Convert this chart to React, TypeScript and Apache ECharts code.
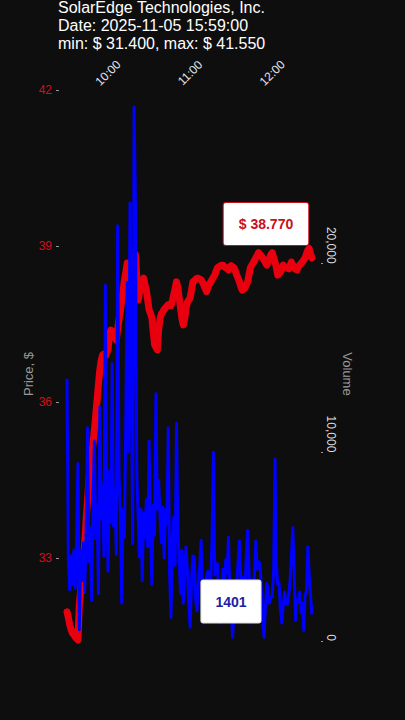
import React, { useEffect, useRef } from "react";
import * as echarts from "echarts";

const TITLE_LINES = [
  "SolarEdge Technologies, Inc.",
  "Date: 2025-11-05 15:59:00",
  "min: $ 31.400, max: $ 41.550",
];

const START_HOUR = 9;
const START_MIN = 30;

// price, $ per minute from 09:30
const price = [
  31.96, 31.85, 31.71, 31.62, 31.55, 31.52, 31.48, 31.45, 31.42, 32.1,
  32.38, 32.7, 32.96, 33.3, 33.73, 34.1, 34.5, 34.75, 34.98, 35.2,
  35.46, 35.75, 36.04, 36.35, 36.62, 36.8, 36.9, 36.92, 36.88, 36.95,
  37.0, 37.3, 37.38, 37.36, 37.35, 37.25, 37.19, 37.4, 37.58, 37.75,
  37.96, 38.15, 38.35, 38.5, 38.67, 38.55, 38.44, 38.2, 37.96, 38.4,
  38.83, 38.4, 37.96, 38.1, 38.25, 38.3, 38.38, 38.25, 38.15, 37.95,
  37.77, 37.7, 37.62, 37.35, 37.1, 37.05, 37.0, 37.4, 37.6, 37.7,
  37.73, 37.78, 37.81, 37.84, 37.87, 37.86, 37.85, 37.95, 38.06, 38.18,
  38.31, 38.2, 38.0, 37.8, 37.6, 37.48, 37.6, 37.8, 37.92, 37.96,
  38.0, 38.15, 38.31, 38.33, 38.36, 38.38, 38.38, 38.36, 38.35, 38.3,
  38.25, 38.18, 38.12, 38.2, 38.27, 38.3, 38.35, 38.4, 38.44, 38.52,
  38.58, 38.6, 38.62, 38.63, 38.63, 38.6, 38.58, 38.56, 38.54, 38.6,
  38.62, 38.6, 38.58, 38.52, 38.44, 38.38, 38.31, 38.22, 38.15, 38.17,
  38.19, 38.25, 38.31, 38.45, 38.58, 38.63, 38.67, 38.72, 38.77, 38.82,
  38.87, 38.84, 38.81, 38.77, 38.73, 38.68, 38.63, 38.7, 38.77, 38.83,
  38.87, 38.78, 38.69, 38.58, 38.44, 38.48, 38.5, 38.55, 38.63, 38.6,
  38.58, 38.57, 38.56, 38.62, 38.69, 38.63, 38.58, 38.55, 38.54, 38.6,
  38.63, 38.66, 38.69, 38.73, 38.77, 38.85, 38.92, 38.95, 38.85, 38.77,
];

// volume per minute from 09:30
const volume = [
  13900, 4200, 2700, 4500, 3000, 4800, 2800, 5500, 9400, 600,
  4800, 3200, 5200, 2600, 6000, 11300, 4200, 6000, 2150, 7500,
  10600, 5400, 7200, 2500, 12400, 6500, 8200, 4500, 18850, 7800,
  3700, 9000, 6300, 14700, 6100, 8000, 4600, 22000, 9000, 6500,
  2000, 7000, 5500, 12000, 19000, 10000, 23200, 14000, 5170, 28300,
  23300, 8900, 6500, 4450, 7000, 3200, 6800, 5500, 7500, 5000,
  10600, 6000, 3000, 7200, 5600, 13100, 7000, 8500, 6550, 5200,
  7100, 4400, 7000, 6200, 11300, 3500, 1250, 5500, 6550, 4000,
  11540, 6000, 4200, 2530, 4800, 2000, 3800, 5000, 3700, 1900,
  730, 3200, 4500, 4450, 2200, 1600, 3000, 4000, 5340, 2300,
  950, 2800, 3500, 3700, 2200, 3000, 5600, 10000, 3500, 4000,
  4100, 2200, 950, 2600, 3800, 2900, 4300, 3600, 5500, 2500,
  1800, 200, 1500, 2300, 3000, 4200, 5300, 3200, 2800, 3400,
  2500, 4500, 5870, 3800, 950, 2400, 3000, 3500, 5300, 3800,
  4200, 4100, 2800, 1000, 200, 1800, 3050, 2700, 2000, 2300,
  2350, 3800, 9650, 4100, 3000, 3050, 1600, 950, 1900, 2600,
  2000, 1950, 2400, 3200, 4500, 6000, 3600, 1100, 2200, 2100,
  2600, 1500, 2000, 560, 2500, 2500, 5000, 3500, 2400, 1401,
];

const timeTicks = [30, 90, 150]; // minutes after 09:30 -> 10:00, 11:00, 12:00
const priceTicks = [33, 36, 39, 42];
const volumeTicks = [0, 10000, 20000];

const FONT = "'Liberation Sans', Arial, sans-serif";

function fmtTime(m: number): string {
  const total = START_HOUR * 60 + START_MIN + Math.round(m);
  const h = Math.floor(total / 60);
  const mm = total % 60;
  return `${String(h).padStart(2, "0")}:${String(mm).padStart(2, "0")}`;
}

export default function App() {
  const ref = useRef<HTMLDivElement>(null);

  useEffect(() => {
    if (!ref.current) return;
    document.body.style.margin = "0";
    const chart = echarts.init(ref.current, undefined, { renderer: "svg" });

    const priceData = price.map((p, i) => [i, p]);
    const volData = volume.map((v, i) => [i, v]);
    const lastIdx = price.length - 1;

    chart.setOption({
      animation: false,
      backgroundColor: "#0e0e0e",
      textStyle: { fontFamily: FONT },
      title: {
        text: TITLE_LINES.join("\n"),
        left: 58,
        top: -2,
        padding: 0,
        textStyle: {
          color: "#ffffff",
          fontSize: 16,
          lineHeight: 18,
          fontWeight: "normal",
          fontFamily: FONT,
        },
      },
      grid: { left: 59, right: 84, top: 90, bottom: 79, containLabel: false },
      xAxis: {
        type: "value",
        position: "top",
        min: -5.85,
        max: 185.6,
        splitLine: { show: false },
        axisLine: { show: false, onZero: false },
        axisTick: { show: false },
        axisLabel: {
          customValues: timeTicks,
          formatter: (v: number) => fmtTime(v),
          rotate: -45,
          align: "center",
          verticalAlign: "middle",
          margin: 17,
          color: "#e2e4ec",
          fontSize: 12,
          fontFamily: FONT,
        },
      },
      yAxis: [
        {
          type: "value",
          position: "left",
          min: 31.4,
          max: 42,
          splitLine: { show: false },
          axisLine: { show: false, onZero: false },
          axisTick: {
            show: true,
            customValues: priceTicks,
            length: 3,
            lineStyle: { color: "#999" },
          },
          axisLabel: {
            customValues: priceTicks,
            color: "#d01020",
            fontSize: 12,
            margin: 7,
            fontFamily: FONT,
          },
        },
        {
          type: "value",
          position: "right",
          min: 0,
          max: 29200,
          splitLine: { show: false },
          axisLine: { show: false, onZero: false },
          axisTick: {
            show: true,
            customValues: volumeTicks,
            length: 2,
            lineStyle: { color: "#999" },
          },
          axisLabel: {
            customValues: volumeTicks,
            formatter: (v: number) => v.toLocaleString("en-US"),
            rotate: -90,
            align: "right",
            verticalAlign: "middle",
            margin: 10,
            color: "#dddddd",
            fontSize: 12,
            fontFamily: FONT,
          },
        },
      ],
      graphic: [
        {
          type: "text",
          x: 28,
          y: 374,
          rotation: Math.PI / 2,
          style: {
            text: "Price, $",
            fill: "#9a9a9a",
            font: `13px ${FONT}`,
            align: "center",
            verticalAlign: "middle",
          },
        },
        {
          type: "text",
          x: 347,
          y: 374,
          rotation: -Math.PI / 2,
          style: {
            text: "Volume",
            fill: "#9a9a9a",
            font: `13px ${FONT}`,
            align: "center",
            verticalAlign: "middle",
          },
        },
      ],
      series: [
        {
          name: "Price",
          type: "line",
          yAxisIndex: 0,
          data: priceData,
          showSymbol: false,
          symbol: "none",
          lineStyle: { color: "#e8000f", width: 7, join: "round", cap: "round" },
          z: 2,
          markPoint: {
            symbol: "circle",
            symbolSize: 0,
            data: [
              {
                name: "$ " + price[lastIdx].toFixed(3),
                coord: [lastIdx, price[lastIdx]],
              },
            ],
            label: {
              show: true,
              position: "inside",
              formatter: (p: any) => p.name,
              offset: [-46, -34],
              color: "#c81020",
              fontWeight: "bold",
              fontSize: 14,
              fontFamily: FONT,
              backgroundColor: "#ffffff",
              borderColor: "#c81020",
              borderWidth: 1,
              borderRadius: 2,
              padding: [13, 15, 13, 15],
              lineHeight: 16,
            },
          },
        },
        {
          name: "Volume",
          type: "line",
          yAxisIndex: 1,
          data: volData,
          showSymbol: false,
          symbol: "none",
          lineStyle: { color: "#0000ff", width: 3, join: "round" },
          z: 3,
          markPoint: {
            symbol: "circle",
            symbolSize: 0,
            data: [
              {
                name: String(volume[lastIdx]),
                coord: [lastIdx, volume[lastIdx]],
              },
            ],
            label: {
              show: true,
              position: "inside",
              formatter: (p: any) => p.name,
              offset: [-81, -13],
              color: "#2020a8",
              fontWeight: "bold",
              fontSize: 14,
              fontFamily: FONT,
              backgroundColor: "#ffffff",
              borderColor: "#dddddd",
              borderWidth: 1,
              borderRadius: 2,
              padding: [13, 14, 13, 14],
              lineHeight: 16,
            },
          },
        },
      ],
    });

    return () => chart.dispose();
  }, []);

  return (
    <div
      ref={ref}
      style={{ position: "fixed", left: 0, top: 0, width: 405, height: 720 }}
    />
  );
}
